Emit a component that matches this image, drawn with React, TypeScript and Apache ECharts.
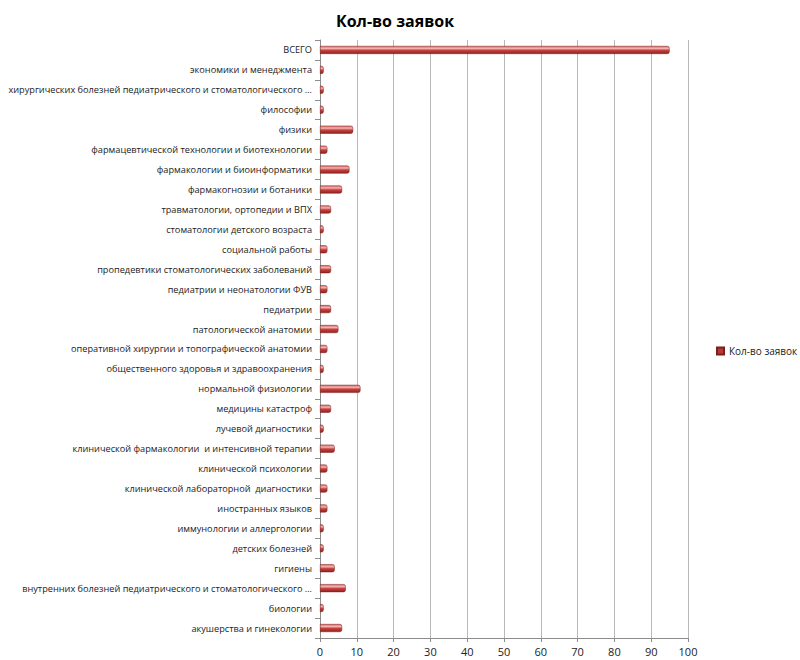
import React, { useEffect, useRef } from "react";
import * as echarts from "echarts";

const title = "Кол-во заявок";
const seriesName = "Кол-во заявок";

// top to bottom as displayed
const categories = [
  "ВСЕГО",
  "экономики и менеджмента",
  "хирургических болезней педиатрического и стоматологического …",
  "философии",
  "физики",
  "фармацевтической технологии и биотехнологии",
  "фармакологии и биоинформатики",
  "фармакогнозии и ботаники",
  "травматологии, ортопедии и ВПХ",
  "стоматологии детского возраста",
  "социальной работы",
  "пропедевтики стоматологических заболеваний",
  "педиатрии и неонатологии ФУВ",
  "педиатрии",
  "патологической анатомии",
  "оперативной хирургии и топографической анатомии",
  "общественного здоровья и здравоохранения",
  "нормальной физиологии",
  "медицины катастроф",
  "лучевой диагностики",
  "клинической фармакологии  и интенсивной терапии",
  "клинической психологии",
  "клинической лабораторной  диагностики",
  "иностранных языков",
  "иммунологии и аллергологии",
  "детских болезней",
  "гигиены",
  "внутренних болезней педиатрического и стоматологического …",
  "биологии",
  "акушерства и гинекологии",
];

const values = [
  95, 1, 1, 1, 9, 2, 8, 6, 3, 1, 2, 3, 2, 3, 5, 2, 1, 11, 3, 1, 4, 2, 2, 2, 1, 1, 4, 7, 1, 6,
];

const xTicks = { min: 0, max: 100, interval: 10 };

export default function App() {
  const ref = useRef<HTMLDivElement>(null);
  useEffect(() => {
    document.body.style.margin = "0";
    const chart = echarts.init(ref.current!, null, { renderer: "svg" });
    const font = "'Open Sans', 'DejaVu Sans', sans-serif";
    chart.setOption({
      animation: false,
      backgroundColor: "#ffffff",
      title: {
        text: title,
        left: 390,
        textAlign: "center",
        top: 8,
        textStyle: { fontSize: 16, fontWeight: "bold", color: "#000", fontFamily: font },
      },
      legend: {
        orient: "vertical",
        left: 711,
        top: 341,
        itemWidth: 7,
        itemHeight: 7,
        itemGap: 4,
        textStyle: { fontSize: 10, color: "#222", fontFamily: font },
        data: [{ name: seriesName, icon: "rect", itemStyle: { color: "#b83a38" } }],
      },
      grid: {
        left: 320,
        right: 112,
        top: 40,
        bottom: 22,
        containLabel: false,
        outerBoundsMode: "none",
      },
      xAxis: {
        type: "value",
        min: xTicks.min,
        max: xTicks.max,
        interval: xTicks.interval,
        axisLine: { show: true, lineStyle: { color: "#8c8c8c" } },
        axisTick: { show: true, length: 4, lineStyle: { color: "#8c8c8c" } },
        axisLabel: { fontSize: 11, color: "#222", margin: 8, fontFamily: font },
        splitLine: { show: true, lineStyle: { color: "#b8b8b8", width: 1 } },
      },
      yAxis: {
        type: "category",
        inverse: true,
        data: categories,
        axisLine: { show: true, lineStyle: { color: "#8c8c8c" } },
        axisTick: { show: true, length: 5, lineStyle: { color: "#8c8c8c" } },
        axisLabel: { fontSize: 9.2, color: "#222", margin: 8, fontFamily: font },
      },
      series: [
        {
          name: seriesName,
          type: "bar",
          data: values,
          barWidth: 8,
          itemStyle: {
            borderRadius: [0, 2, 2, 0],
            borderColor: "#7a1f1d",
            borderWidth: 0.5,
            color: new echarts.graphic.LinearGradient(0, 0, 0, 1, [
              { offset: 0, color: "#d66a68" },
              { offset: 0.3, color: "#f2b3b1" },
              { offset: 0.55, color: "#c8403d" },
              { offset: 1, color: "#8e2220" },
            ]),
          },
        },
      ],
    });
    return () => chart.dispose();
  }, []);
  return <div ref={ref} style={{ width: 800, height: 660 }} />;
}
